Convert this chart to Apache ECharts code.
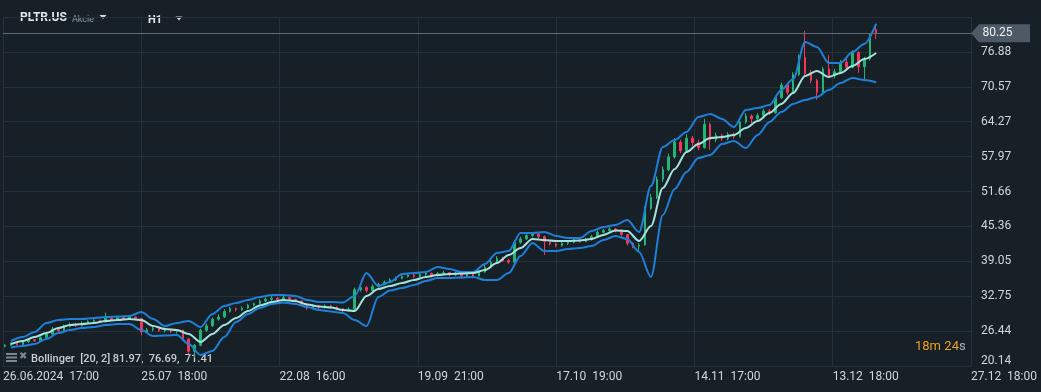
<!DOCTYPE html>
<html>
<head>
<meta charset="utf-8">
<script src="https://cdn.jsdelivr.net/npm/echarts@6/dist/echarts.min.js"></script>
<style>
html,body{margin:0;padding:0;background:#171f27;}
#chart{width:1041px;height:392px;}
</style>
</head>
<body>
<div id="chart"></div>
<script>
// ---------- DATA ----------
const SYMBOL = 'PLTR.US';
const SYMBOL_TYPE = 'Akcie';
const TIMEFRAME = 'H1';
const COUNTDOWN = ['18', 'm', '24', 's'];
const BB_PARAMS = '[20, 2]';

// x-axis tick labels (one per vertical grid line)
const X_LABELS = ['26.06.2024  17:00', '25.07  18:00', '22.08  16:00', '19.09  21:00',
                  '17.10  19:00', '14.11  17:00', '13.12  18:00', '27.12  18:00'];
// y-axis tick labels
const Y_LABELS = ['20.14', '26.44', '32.75', '39.05', '45.36', '51.66', '57.97', '64.27', '70.57', '76.88'];

// candles: [open, close, low, high]
const CANDLES = [
[23.7,23.9,23.5,24.1],[23.9,24.2,23.8,24.4],[24.2,24.0,23.8,24.3],[24.0,24.5,23.9,24.7],[24.5,24.9,24.3,25.1],
[24.9,24.7,24.5,25.0],[24.7,25.3,24.6,25.5],[25.3,25.9,25.2,26.1],[25.9,26.8,25.8,27.2],[26.8,26.5,26.3,27.0],
[26.5,27.3,26.4,27.6],[27.3,27.7,27.1,28.0],[27.7,27.4,27.2,27.9],[27.4,27.9,27.3,28.2],[27.9,28.2,27.7,28.4],
[28.2,28.4,27.9,28.6],[28.4,28.1,27.9,28.5],[28.1,28.8,28.0,29.8],[28.8,28.5,28.3,28.9],[28.5,28.9,28.4,29.1],
[28.9,28.6,28.4,29.0],[28.6,29.0,28.5,29.2],[29.0,28.7,28.4,29.1],[28.7,26.3,25.7,28.8],[26.3,26.7,26.1,27.0],
[26.7,26.9,26.4,27.2],[26.9,26.5,26.3,27.0],[26.5,26.8,26.2,27.1],[26.8,26.4,26.1,26.9],[26.4,26.6,26.0,26.8],
[26.6,25.0,24.7,26.7],[25.0,22.8,22.3,25.2],[22.8,23.9,21.6,24.1],[23.9,26.6,23.7,26.9],[26.6,27.4,26.3,27.8],
[27.4,28.6,27.2,28.9],[28.6,29.0,28.3,29.5],[29.0,30.0,28.8,30.4],[30.0,30.5,29.8,30.8],[30.5,30.3,30.0,30.7],
[30.3,30.6,30.1,30.9],[30.6,31.1,30.4,31.4],[31.1,31.4,30.9,31.6],[31.4,31.9,31.2,32.2],[31.9,32.2,31.7,32.5],
[32.2,32.4,31.9,32.8],[32.4,32.1,31.9,32.6],[32.1,32.5,32.0,32.9],[32.5,32.2,31.9,32.6],[32.2,31.9,31.6,32.3],
[31.9,31.3,31.0,32.0],[31.3,30.6,30.3,31.5],[30.6,31.0,30.4,31.3],[31.0,30.7,30.2,31.2],[30.7,31.0,30.5,31.3],
[31.0,30.8,30.5,31.2],[30.8,30.5,30.2,30.9],[30.5,30.1,29.7,30.6],[30.1,30.4,29.9,30.7],[30.4,33.9,30.3,34.3],
[33.9,34.3,33.6,34.7],[34.3,33.8,33.4,34.6],[33.8,34.5,33.7,34.9],[34.5,34.9,34.3,35.2],[34.9,35.3,34.7,35.6],
[35.3,35.7,35.1,36.0],[35.7,36.0,35.5,36.3],[36.0,36.3,35.8,36.6],[36.3,36.6,36.1,36.9],[36.6,36.3,36.0,36.8],
[36.3,36.7,36.1,37.0],[36.7,36.9,36.4,37.3],[36.9,36.5,36.1,37.0],[36.5,36.8,36.3,37.1],[36.8,37.0,36.6,37.3],
[37.0,36.6,36.3,37.1],[36.6,36.9,36.4,37.2],[36.9,36.4,35.9,37.0],[36.4,36.7,36.2,37.0],[36.7,36.4,36.0,36.9],
[36.4,37.1,36.3,37.4],[37.1,38.0,37.0,38.4],[38.0,38.9,37.8,39.3],[38.9,39.6,38.7,40.0],[39.6,39.2,38.9,39.9],
[39.2,38.9,38.6,39.5],[38.9,42.5,38.8,42.8],[42.5,43.1,42.2,43.5],[43.1,43.7,42.9,44.1],[43.7,44.0,43.4,44.3],
[44.0,43.5,43.2,44.2],[43.5,42.6,40.2,43.7],[42.6,42.2,41.9,42.8],[42.2,41.9,41.6,42.4],[41.9,42.3,41.7,42.6],
[42.3,42.5,42.0,42.8],[42.5,42.9,42.3,43.1],[42.9,42.6,42.4,43.0],[42.6,43.0,42.5,43.3],[43.0,43.5,42.8,43.8],
[43.5,44.3,43.4,44.6],[44.3,44.6,44.1,44.9],[44.6,44.9,44.4,45.2],[44.9,44.6,44.3,45.1],[44.6,43.9,43.6,44.8],
[43.9,42.3,41.9,44.0],[42.3,41.8,41.4,42.5],[41.8,42.0,40.9,42.3],[42.0,48.6,41.9,49.0],[48.6,50.6,48.3,51.2],
[50.6,53.9,50.3,54.4],[53.9,55.6,53.4,56.2],[55.6,57.9,55.3,58.5],[57.9,60.6,57.6,61.3],[60.6,59.0,58.6,61.0],
[59.0,61.3,58.8,62.0],[61.3,60.5,59.9,61.7],[60.5,59.6,59.1,61.0],[59.6,63.8,59.4,64.8],[63.8,61.0,59.2,64.1],
[61.0,61.8,60.6,62.3],[61.8,61.2,60.8,62.1],[61.2,62.0,60.9,62.4],[62.0,61.6,61.2,62.3],[61.6,64.2,61.4,64.6],
[64.2,65.3,63.9,65.8],[65.3,64.8,64.0,65.6],[64.8,65.4,64.5,65.8],[65.4,66.2,65.1,66.6],[66.2,65.9,65.5,66.6],
[65.9,68.6,65.7,68.9],[68.6,70.9,68.4,71.3],[70.9,69.6,69.1,71.2],[69.6,72.8,69.4,73.2],[72.8,75.9,72.5,76.4],
[75.9,73.0,72.6,80.7],[73.0,71.7,71.2,73.6],[71.7,69.6,68.2,72.0],[69.6,73.8,69.4,74.2],[73.8,72.6,72.2,76.3],
[72.6,73.3,72.1,73.8],[73.3,75.0,73.0,75.4],[75.0,74.1,73.6,75.8],[74.1,76.8,73.9,77.2],[76.8,74.2,73.1,77.0],
[74.2,75.6,71.6,76.0],[75.6,79.4,75.3,80.1],[80.9,80.25,79.2,81.9]
];

// Bollinger bands, one value every second candle (candles 1, 3, 5, ...)
const BB_UPPER = [24.66,25.38,26.28,27.91,28.45,28.63,28.63,28.81,28.99,29.08,
29.17,29.90,28.63,27.37,27.91,28.27,27.19,29.54,30.98,31.52,
32.06,32.61,32.97,32.97,32.79,32.06,31.70,31.70,31.61,32.79,
36.94,34.59,35.32,36.76,36.94,37.12,38.03,37.67,37.12,37.12,
38.57,40.56,40.92,44.17,44.17,44.35,43.63,43.27,43.27,44.53,
45.25,45.61,46.52,44.35,52.66,59.71,60.97,62.42,65.13,65.67,
64.77,63.32,66.39,66.75,67.30,70.01,71.99,78.68,77.77,74.88,
74.88,76.87,78.32,81.97];
const BB_MIDDLE = [24.11,24.66,25.38,26.10,27.01,27.55,27.73,27.91,28.27,28.45,
28.63,28.45,27.37,26.82,26.64,25.92,24.48,25.92,27.55,28.81,
30.08,31.07,31.70,32.06,31.88,31.25,30.89,30.71,30.26,30.08,
32.79,34.05,34.59,35.14,35.68,36.22,36.58,36.76,36.85,36.94,
37.48,38.75,40.19,41.46,43.09,42.90,42.72,42.72,42.81,43.09,
43.81,44.62,44.53,42.72,45.43,52.30,55.73,58.80,60.25,61.33,
61.51,61.88,63.14,64.40,65.85,67.48,69.46,72.53,73.44,72.35,
73.08,74.34,75.61,76.69];
const BB_LOWER = [23.48,23.75,24.11,25.02,26.10,26.64,27.01,27.19,27.55,27.73,
27.73,26.64,25.56,25.65,25.74,24.11,22.13,22.85,25.38,28.09,
29.54,30.62,31.34,31.61,31.34,30.80,30.26,29.99,29.72,28.45,
27.37,32.61,33.78,34.23,34.77,35.50,36.04,36.04,36.13,36.22,
35.68,35.68,36.94,40.01,42.36,40.92,40.92,41.28,41.46,41.82,
42.90,43.63,43.09,40.74,36.22,47.42,52.12,55.19,57.72,58.26,
60.25,60.79,59.53,61.88,64.22,66.03,67.48,68.20,68.74,70.01,
71.27,72.17,71.81,71.41];

// ---------- LAYOUT / SCALES ----------
const BARS_PER_LABEL = 35;      // x units between two x labels
const CANDLE_STEP = 1.5;        // x units between candles
const CANDLE_X0 = 0.5;
const X_MAX = BARS_PER_LABEL * (X_LABELS.length - 1);
const Y_MIN = parseFloat(Y_LABELS[0]);
const Y_STEP = (parseFloat(Y_LABELS[Y_LABELS.length - 1]) - Y_MIN) / (Y_LABELS.length - 1);
const Y_MAX = Y_MIN + Y_STEP * Y_LABELS.length;
const LAST_CLOSE = CANDLES[CANDLES.length - 1][1];

const GREEN = '#22b573', RED = '#f2385a';

const candleData = CANDLES.map((c, i) => [CANDLE_X0 + i * CANDLE_STEP, c[0], c[1], c[2], c[3]]);
const bandX = k => CANDLE_X0 + (2 * k + 1) * CANDLE_STEP;
const toLine = arr => arr.map((v, k) => [bandX(k), v]);

const splitColors = [];
for (let i = 0; i < Y_LABELS.length; i++) splitColors.push('#25303a');
splitColors.push('rgba(0,0,0,0)');

const FONT = 'Roboto';
const chart = echarts.init(document.getElementById('chart'), null, {renderer: 'canvas'});

const legendText = 'Bollinger  ' + BB_PARAMS + ' ' + BB_UPPER[BB_UPPER.length - 1].toFixed(2) + ',  ' +
  BB_MIDDLE[BB_MIDDLE.length - 1].toFixed(2) + ',  ' + BB_LOWER[BB_LOWER.length - 1].toFixed(2);

chart.setOption({
  backgroundColor: '#171f27',
  animation: false,
  grid: {left: 3, right: 70, top: 17, bottom: 26},
  xAxis: {
    type: 'value', min: 0, max: X_MAX, interval: BARS_PER_LABEL,
    axisLine: {show: false}, axisTick: {show: false},
    splitLine: {show: true, lineStyle: {color: '#25303a', width: 1}},
    axisLabel: {
      show: true, showMinLabel: true, showMaxLabel: true,
      formatter: v => X_LABELS[Math.round(v / BARS_PER_LABEL)] || '',
      align: 'left', color: '#d2d6da', fontSize: 12, fontFamily: FONT, margin: 5
    }
  },
  yAxis: {
    type: 'value', position: 'right', min: Y_MIN, max: Y_MAX, interval: Y_STEP,
    axisLine: {show: false}, axisTick: {show: false},
    splitLine: {show: true, lineStyle: {color: splitColors, width: 1}},
    axisLabel: {
      showMaxLabel: false, align: 'left', margin: 10,
      color: '#d2d6da', fontSize: 12, fontFamily: FONT,
      formatter: v => {
        const idx = Math.round((v - Y_MIN) / Y_STEP);
        const t = Y_LABELS[idx] || '';
        return idx === 0 ? '{lo|' + t + '}' : t;
      },
      rich: {lo: {color: '#d2d6da', fontSize: 12, fontFamily: FONT, padding: [0, 0, 10, 0]}}
    }
  },
  series: [
    {
      type: 'candlestick', name: SYMBOL,
      data: candleData,
      encode: {x: 0, y: [1, 2, 3, 4]},
      barWidth: 2,
      itemStyle: {color: GREEN, color0: RED, borderColor: GREEN, borderColor0: RED, borderWidth: 1},
      z: 2,
      markLine: {
        silent: true, symbol: ['none', 'none'],
        lineStyle: {color: '#5e6a74', type: 'solid', width: 1},
        label: {show: false},
        data: [{yAxis: LAST_CLOSE}]
      },
      markPoint: {
        silent: true,
        symbol: 'path://M0,9 L8,0 L59,0 L59,18 L8,18 Z',
        symbolSize: [59, 18], symbolKeepAspect: false,
        symbolOffset: [29.5, 0],
        itemStyle: {color: '#4d5a65'},
        label: {show: true, position: 'inside', offset: [-3, 0], formatter: LAST_CLOSE.toFixed(2),
                color: '#eef1f3', fontSize: 12, fontFamily: FONT},
        data: [{coord: [X_MAX, LAST_CLOSE], value: LAST_CLOSE}]
      }
    },
    {type: 'line', name: 'BB upper', data: toLine(BB_UPPER), symbol: 'none', smooth: 0.3, smoothMonotone: 'x',
     lineStyle: {color: '#1f80d9', width: 2}, z: 3},
    {type: 'line', name: 'BB lower', data: toLine(BB_LOWER), symbol: 'none', smooth: 0.3, smoothMonotone: 'x',
     lineStyle: {color: '#1f80d9', width: 2}, z: 3},
    {type: 'line', name: 'BB middle', data: toLine(BB_MIDDLE), symbol: 'none', smooth: 0.3, smoothMonotone: 'x',
     lineStyle: {color: '#a3e3dc', width: 2}, z: 4}
  ],
  graphic: [
    {type: 'text', left: 20, top: 12, style: {text: SYMBOL, fill: '#e4e8eb', font: 'bold 12px Roboto'}},
    {type: 'text', left: 72, top: 15, style: {text: SYMBOL_TYPE, fill: '#8e9ba6', font: '9px Roboto'}},
    {type: 'polygon', shape: {points: [[99.5, 15], [106.5, 15], [103, 19]]}, style: {fill: '#d3d8dc'}},
    {type: 'text', left: 148, top: 15, style: {text: TIMEFRAME, fill: '#e4e8eb', font: 'bold 11px Roboto'}},
    {type: 'polygon', shape: {points: [[175.5, 16.5], [182.5, 16.5], [179, 20.5]]}, style: {fill: '#d3d8dc'}},
    // legend icons
    {type: 'rect', shape: {x: 6, y: 353, width: 11, height: 2}, style: {fill: '#7d8790'}},
    {type: 'rect', shape: {x: 6, y: 356.5, width: 11, height: 2}, style: {fill: '#7d8790'}},
    {type: 'rect', shape: {x: 6, y: 360, width: 11, height: 2}, style: {fill: '#7d8790'}},
    {type: 'text', left: 19, top: 351, style: {text: '\u2716', fill: '#7d8790', font: '10px DejaVu Sans'}},
    {type: 'text', left: 31, top: 354, style: {text: legendText, fill: '#c9ced2', font: '500 11px Roboto'}},
    // countdown
    {type: 'text', left: 915, top: 340, style: {
      text: '{o|' + COUNTDOWN[0] + '}{o|' + COUNTDOWN[1] + '} {o|' + COUNTDOWN[2] + '}{g|' + COUNTDOWN[3] + '}',
      rich: {o: {fill: '#f0a021', font: '13px Roboto'}, g: {fill: '#a9b2b9', font: '13px Roboto'}}
    }}
  ]
});
</script>
</body>
</html>
